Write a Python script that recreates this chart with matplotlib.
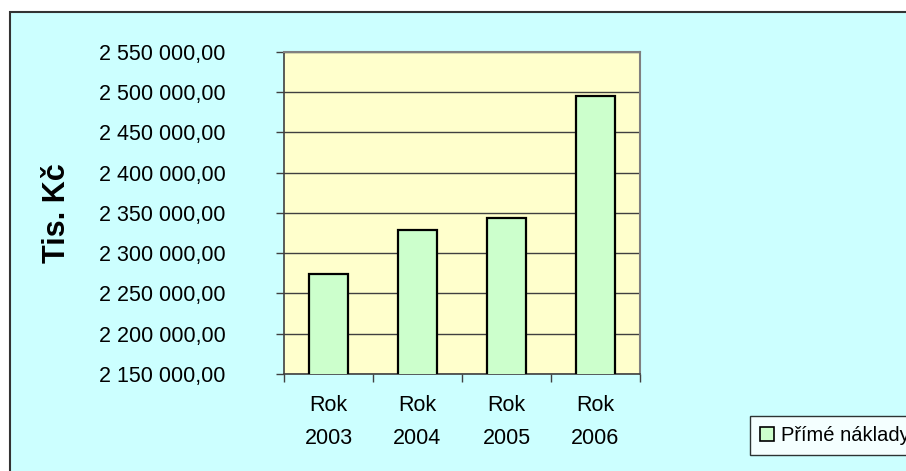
import matplotlib
matplotlib.use("Agg")
import matplotlib.pyplot as plt
from matplotlib.patches import Rectangle
from matplotlib.ticker import FuncFormatter, FixedLocator

categories = ["Rok\n2003", "Rok\n2004", "Rok\n2005", "Rok\n2006"]
values = [2274000, 2328500, 2344000, 2495000]
series_name = "Přímé náklady"
y_min, y_max, y_step = 2150000, 2550000, 50000
y_label = "Tis. Kč"

plt.rcParams['font.family'] = ['Liberation Sans', 'DejaVu Sans']

W, H = 906, 471
fig = plt.figure(figsize=(W / 100, H / 100), dpi=100)
fig.patch.set_facecolor("white")

# chart area background with border (extends off the right/bottom edges)
fig.patches.append(Rectangle((10 / W, -0.05), 1.1, 1 - 12 / H + 0.05,
                             transform=fig.transFigure, facecolor="#CCFFFF",
                             edgecolor="#333333", linewidth=1.5, zorder=-10))

ax = fig.add_axes([284 / W, 1 - 374 / H, 356 / W, (374 - 52) / H])
ax.set_zorder(1)
ax.set_facecolor("#FFFFCC")

x = list(range(len(categories)))
ax.bar(x, values, width=0.43, color="#CCFFCC", edgecolor="black",
       linewidth=1.6, zorder=3, label=series_name)

ax.set_xlim(-0.5, len(categories) - 0.5)
ax.set_ylim(y_min, y_max)
yt = list(range(y_min, y_max + 1, y_step))
ax.set_yticks(yt)
ax.yaxis.set_major_formatter(FuncFormatter(
    lambda v, p: f"{v:,.2f}".replace(",", " ").replace(".", ",")))
ax.grid(axis="y", color="#404040", linewidth=1.0, zorder=1)
ax.set_axisbelow(True)

ax.xaxis.set_major_locator(FixedLocator([i - 0.5 for i in range(len(categories) + 1)]))
ax.xaxis.set_minor_locator(FixedLocator(x))
ax.set_xticklabels([])
ax.set_xticklabels(categories, minor=True)
ax.tick_params(axis="x", which="major", length=6, width=1, color="#404040", direction="out")
ax.tick_params(axis="x", which="minor", length=0, pad=15, labelsize=15.5)
for t in ax.get_xticklabels(minor=True):
    t.set_linespacing(1.75)
ax.tick_params(axis="y", length=6, width=1, color="#404040", pad=36, labelsize=15.5)

for s in ["left", "bottom"]:
    ax.spines[s].set_color("#404040")
    ax.spines[s].set_linewidth(1.2)
for s in ["top", "right"]:
    ax.spines[s].set_color("#808080")
    ax.spines[s].set_linewidth(1.5)

fig.text(57 / W, 1 - 213 / H, y_label, rotation=90, ha="center", va="center",
         fontsize=22, fontweight="bold")

leg = fig.legend(loc="upper left", bbox_to_anchor=(750 / W, 1 - 416 / H),
                 frameon=True, fancybox=False, shadow=False, fontsize=14.5,
                 handlelength=0.7, handleheight=0.7, handletextpad=0.35,
                 borderpad=0.5, borderaxespad=0)
leg.get_frame().set_edgecolor("black")
leg.get_frame().set_linewidth(1.0)
leg.get_frame().set_facecolor("white")
for h in leg.legend_handles:
    h.set_linewidth(1.2)

fig.savefig("out.png", dpi=100)
